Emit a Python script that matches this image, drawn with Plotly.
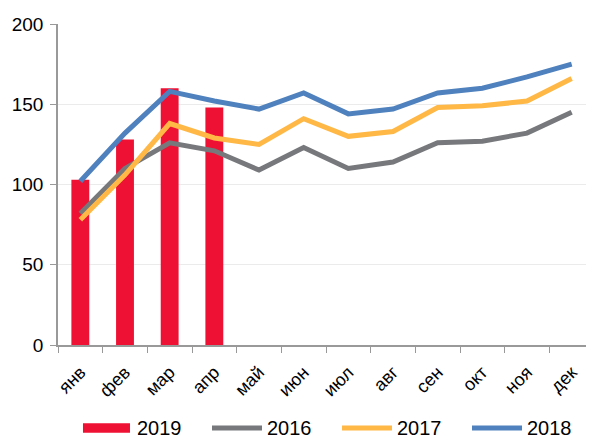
import plotly.graph_objects as go

months = ["янв", "фев", "мар", "апр", "май", "июн", "июл", "авг", "сен", "окт", "ноя", "дек"]
y2019 = [103, 128, 160, 148]
y2016 = [82, 110, 126, 121, 109, 123, 110, 114, 126, 127, 132, 145]
y2017 = [78, 106, 138, 129, 125, 141, 130, 133, 148, 149, 152, 166]
y2018 = [102, 132, 158, 152, 147, 157, 144, 147, 157, 160, 167, 175]
yticks = [0, 50, 100, 150, 200]

series_names = ["2019", "2016", "2017", "2018"]
colors = ["#EE1133", "#76787B", "#FFB845", "#4E81BD"]

fig = go.Figure()
fig.add_trace(go.Bar(x=months[:len(y2019)], y=y2019, name="2019",
                     marker=dict(color=colors[0], line=dict(width=0)), width=0.4))
for name, ys, c in zip(series_names[1:], [y2016, y2017, y2018], colors[1:]):
    fig.add_trace(go.Scatter(x=months, y=ys, name=name, mode="lines",
                             line=dict(color=c, width=5)))

# custom legend (paper coordinates, below the plot)
leg_y = -0.2586
sym = [(0.0466, 0.1343), (0.2873, 0.3806), (0.5299, 0.6231), (0.7724, 0.8657)]
txt_x = [0.1437, 0.3862, 0.6287, 0.8713]
for i, (name, c) in enumerate(zip(series_names, colors)):
    x0, x1 = sym[i]
    if i == 0:
        fig.add_shape(type="rect", xref="paper", yref="paper", x0=x0, x1=x1,
                      y0=leg_y - 0.015, y1=leg_y + 0.015, fillcolor=c, line=dict(width=0))
    else:
        fig.add_shape(type="line", xref="paper", yref="paper", x0=x0, x1=x1,
                      y0=leg_y, y1=leg_y, line=dict(color=c, width=5))
    fig.add_annotation(xref="paper", yref="paper", x=txt_x[i], y=leg_y, text=name,
                       showarrow=False, xanchor="left", yanchor="middle",
                       font=dict(size=20, color="#000"))

# page body has an 8px default margin, so the figure is offset by 8px
fig.update_layout(
    width=586, height=430,
    margin=dict(l=50, r=0, t=16, b=93),
    paper_bgcolor="white", plot_bgcolor="white",
    font=dict(family="Liberation Sans, Arial", size=18, color="#000"),
    showlegend=False,
)
fig.update_xaxes(type="category", categoryorder="array", categoryarray=months,
                 tickangle=-45, tickfont=dict(size=18), showline=True,
                 linecolor="#999", linewidth=1.5, ticks="outside", tickson="boundaries",
                 ticklen=6, tickcolor="#999", showgrid=False, range=[-0.5, 11.5],
                 automargin=False, ticklabelstandoff=8)
fig.update_yaxes(range=[0, 200], tickvals=yticks, showline=True, linecolor="#999",
                 linewidth=1.5, ticks="outside", ticklen=6, tickcolor="#999",
                 showgrid=True, gridcolor="#EBEBEB", gridwidth=1, zeroline=False,
                 tickfont=dict(size=19), automargin=False, ticklabelstandoff=3)

fig.write_html("out.html")
